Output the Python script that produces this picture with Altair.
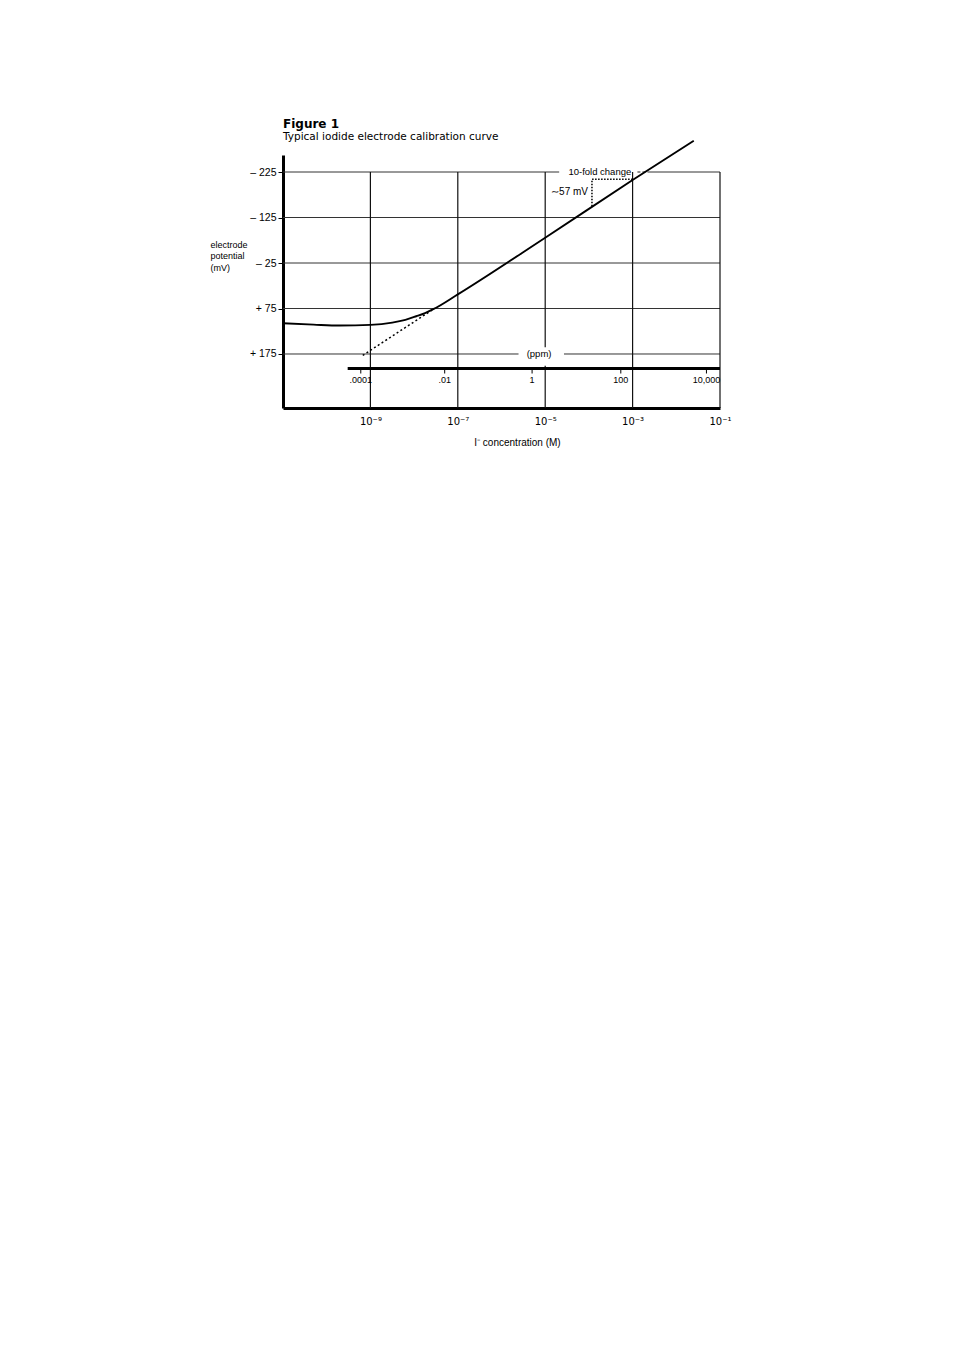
import altair as alt
import pandas as pd

FONT = "Liberation Sans"
TFONT = "DejaVu Sans"

# ---- data ----
# measured calibration curve: log10[I-] (M) vs electrode potential (mV)
log_conc = [-11.0, -10.3, -9.7, -9.0, -8.5, -8.2, -7.95, -7.75, -7.55, -7.0, -5.0, -3.0, -1.6]
potential_mV = [107.5, 110.5, 112.5, 111.0, 106.0, 100.0, 92.0, 85.0, 76.0, 44.0, -80.6, -207.4, -293.8]

# dotted Nernstian extrapolation
extrap_log = [-9.175, -7.55]
extrap_mV = [178.0, 76.0]

# ~57 mV / 10-fold change marker (dotted right angle)
marker_log = [-3.0, -3.93, -3.93]
marker_mV = [-209.0, -209.0, -149.7]

# axes
y_ticks = [-225, -125, -25, 75, 175]
x_ticks = [-9, -7, -5, -3, -1]
x_tick_labels = ["10⁻⁹", "10⁻⁷", "10⁻⁵", "10⁻³", "10⁻¹"]

# ppm scale
ppm_labels = [".0001", ".01", "1", "100", "10,000"]
ppm_pos = [-9.22, -7.30, -5.30, -3.27, -1.31]
ppm_axis_span = [-9.52, -1.0]
ppm_axis_mV = 206.9

# grid segments (horizontal: mV, from, to) with gaps for annotations
hgrid_mV = [-225, -225, -125, -25, 75, 175, 175]
hgrid_from = [-11.0, -2.66, -11.0, -11.0, -11.0, -11.0, -4.57]
hgrid_to = [-4.68, -1.0, -1.0, -1.0, -1.0, -5.61, -1.0]
# vertical: log, from mV, to mV
vgrid_log = [-9, -7, -5, -5, -3, -1]
vgrid_from = [-225, -225, -225, 201, -225, -225]
vgrid_to = [293.7, 293.7, 160, 293.7, 293.7, 293.7]

# ---- tables ----
curve = pd.DataFrame({"x": log_conc, "y": potential_mV})
extrap = pd.DataFrame({"x": extrap_log, "y": extrap_mV})
marker = pd.DataFrame({"x": marker_log, "y": marker_mV, "o": [0, 1, 2]})
hgrid = pd.DataFrame({"x": hgrid_from, "x2": hgrid_to, "y": hgrid_mV})
vgrid = pd.DataFrame({"x": vgrid_log, "y": vgrid_from, "y2": vgrid_to})
ppm_ticks = pd.DataFrame({"x": ppm_pos, "label": ppm_labels,
                          "y": [ppm_axis_mV] * 5, "y2": [ppm_axis_mV + 11] * 5,
                          "ly": [ppm_axis_mV + 25] * 5})
ppm_axis = pd.DataFrame({"x": [ppm_axis_span[0]], "x2": [ppm_axis_span[1]], "y": [ppm_axis_mV]})
dash = pd.DataFrame({"x": [-2.89], "x2": [-2.70], "y": [-225]})
notes = pd.DataFrame({
    "x": [-3.75, -5.14],
    "y": [-225, 175],
    "t": ["10-fold change", "(ppm)"],
})
note57 = pd.DataFrame({"x": [-4.02], "y": [-180], "t": ["∼57 mV"]})

# ---- scales & axes ----
xscale = alt.Scale(domain=[-11, -1], nice=False, zero=False)
yscale = alt.Scale(domain=[-262.4, 293.7], reverse=True, nice=False, zero=False)

lab_expr = " : ".join(
    f"datum.value == {v} ? '{l}'" for v, l in zip(x_ticks, x_tick_labels)
) + " : ''"

xaxis = alt.Axis(
    values=x_ticks, labelExpr=lab_expr, ticks=False, grid=False,
    domainWidth=3, domainColor="black", labelColor="black",
    labelFontSize=10, labelPadding=8, labelFlush=False, labelOverlap=False,
    labelFont=TFONT,
    title="I⁻ concentration (M)", titleFont=FONT, titleFontSize=10,
    titleFontWeight="normal", titleColor="black",
    titleX=234, titleY=34, titleAlign="center", titleBaseline="middle",
)
yaxis = alt.Axis(
    values=y_ticks,
    labelExpr="datum.value < 0 ? '– ' + (-datum.value) : '+ ' + datum.value",
    grid=False, domainWidth=3, domainColor="black",
    tickSize=5, tickColor="black", tickWidth=1,
    labelFontSize=10.5, labelPadding=2, labelColor="black", labelFont=FONT,
    title=["electrode", "potential", "(mV)"], titleAngle=0, titleAlign="left",
    titleBaseline="top", titleX=-73, titleY=85, titleFontSize=9,
    titleFontWeight="normal", titleColor="black", titleFont=FONT,
    titleLineHeight=11.5,
)


def X(f="x"):
    return alt.X(f, type="quantitative", scale=xscale, axis=xaxis)


def Y(f="y"):
    return alt.Y(f, type="quantitative", scale=yscale, axis=yaxis)


hgrid_l = alt.Chart(hgrid).mark_rule(color="#333", strokeWidth=1).encode(
    x=X(), x2="x2", y=Y())
vgrid_l = alt.Chart(vgrid).mark_rule(color="#111", strokeWidth=1.2).encode(
    x=X(), y=Y(), y2="y2")
dash_l = alt.Chart(dash).mark_rule(color="#222", strokeWidth=1, strokeDash=[3, 2]).encode(
    x=X(), x2="x2", y=Y())
curve_l = alt.Chart(curve).mark_line(color="black", strokeWidth=1.9,
                                     interpolate="monotone", clip=False).encode(
    x=X(), y=Y())
extrap_l = alt.Chart(extrap).mark_line(color="black", strokeWidth=1.5,
                                       strokeDash=[2, 2.5]).encode(x=X(), y=Y())
marker_l = alt.Chart(marker).mark_line(color="black", strokeWidth=1.5,
                                       strokeDash=[1.5, 1.5]).encode(
    x=X(), y=Y(), order="o")
ppm_axis_l = alt.Chart(ppm_axis).mark_rule(color="black", strokeWidth=3).encode(
    x=X(), x2="x2", y=Y())
ppm_ticks_l = alt.Chart(ppm_ticks).mark_rule(color="black", strokeWidth=1).encode(
    x=X(), y=Y(), y2="y2")
ppm_lab_l = alt.Chart(ppm_ticks).mark_text(font=FONT, fontSize=9, color="black",
                                           baseline="middle").encode(
    x=X(), y=Y("ly"), text="label")
notes_l = alt.Chart(notes).mark_text(font=FONT, fontSize=9.5, color="black",
                                     baseline="middle").encode(
    x=X(), y=Y(), text="t")
note57_l = alt.Chart(note57).mark_text(font=FONT, fontSize=10, color="black",
                                       baseline="middle", align="right").encode(
    x=X(), y=Y(), text="t")

chart = alt.layer(
    hgrid_l, vgrid_l, dash_l, ppm_axis_l, ppm_ticks_l, ppm_lab_l,
    extrap_l, marker_l, curve_l, notes_l, note57_l,
).properties(
    width=437, height=253,
    autosize=alt.AutoSizeParams(type="none"),
    padding={"left": 275, "top": 147, "right": 120, "bottom": 120},
    title=alt.TitleParams(
        text="Figure 1",
        subtitle="Typical iodide electrode calibration curve",
        anchor="start", frame="group", font=TFONT, fontSize=12, fontWeight="bold",
        color="black", subtitleFont=TFONT, subtitleFontSize=10.5,
        subtitleColor="black", subtitlePadding=1, offset=-7,
    ),
).configure_view(stroke=None)

chart.save("out.html", embed_options={"renderer": "svg", "actions": False})
